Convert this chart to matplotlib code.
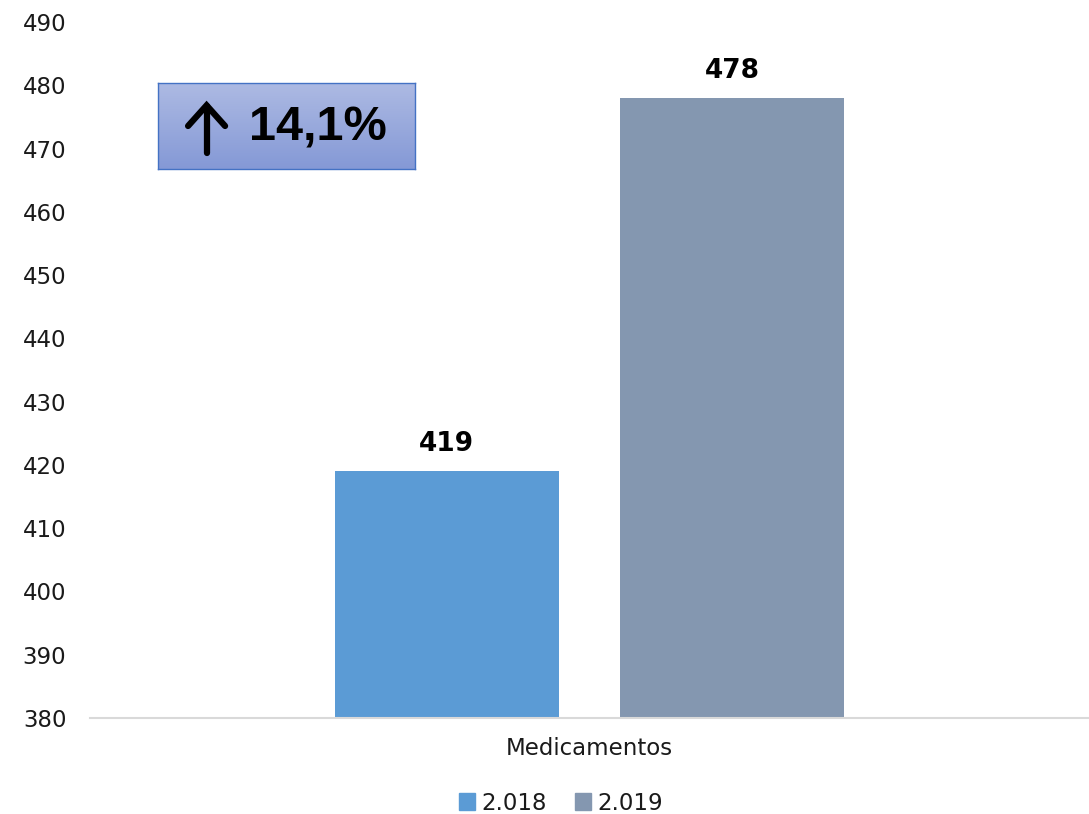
import numpy as np
import matplotlib.pyplot as plt
from matplotlib.patches import Patch

# data
categoria = ["Medicamentos"]
anos = ["2.018", "2.019"]
valores = [419, 478]
cores = ["#5B9BD5", "#8497B0"]
variacao = "14,1%"

plt.rcParams['font.family'] = ['DejaVu Sans']

fig = plt.figure(figsize=(10.89, 8.14), dpi=100)
ax = fig.add_axes([90/1089, 96/814, 999/1089, 696/814])

offsets = [-0.143, 0.143]
for i in range(len(anos)):
    ax.bar(offsets[i], valores[i] - 380, bottom=380, width=0.224,
           color=cores[i], label=anos[i])
    ax.text(offsets[i], valores[i] + 2.2, str(valores[i]), ha='center', va='bottom',
            fontsize=19, fontweight='bold', color='black')

ax.set_xlim(-0.5, 0.5)
ax.set_ylim(380, 490)
ax.set_yticks(np.arange(380, 491, 10))
ax.set_xticks([0])
ax.set_xticklabels(categoria)
ax.tick_params(axis='y', length=0, labelsize=16.5, pad=17, labelcolor='#1a1a1a')
ax.tick_params(axis='x', length=0, labelsize=16.5, pad=14, labelcolor='#1a1a1a')
for s in ['top', 'right', 'left']:
    ax.spines[s].set_visible(False)
ax.spines['bottom'].set_color('#D9D9D9')
ax.spines['bottom'].set_linewidth(1.5)

# legend
handles = [Patch(color=c) for c in cores]
fig.legend(handles, anos, loc='center', bbox_to_anchor=(561/1089, 1 - 803/814),
           ncol=2, frameon=False, fontsize=16.5, handlelength=0.7, handleheight=0.7,
           handletextpad=0.3, columnspacing=1.2, labelcolor='#1a1a1a')

# caixa com variação
bx = fig.add_axes([158/1089, 1 - 169/814, 257/1089, 86/814])
grad = np.linspace(0, 1, 100).reshape(-1, 1)
top = np.array([0.68, 0.73, 0.89])
bot = np.array([0.52, 0.60, 0.84])
img = top + (bot - top) * grad[:, :, None]
bx.imshow(img, aspect='auto', extent=[0, 1, 0, 1], origin='upper')
bx.set_xlim(0, 1)
bx.set_ylim(0, 1)
bx.set_xticks([])
bx.set_yticks([])
for s in bx.spines.values():
    s.set_color('#4472C4')
    s.set_linewidth(1)
bx.annotate('', xy=(0.189, 0.76), xytext=(0.189, 0.19),
            arrowprops=dict(arrowstyle='-|>,head_length=0.0,head_width=0.0', lw=0))
bx.plot([0.189, 0.189], [0.19, 0.73], color='black', lw=4.5, solid_capstyle='round')
bx.plot([0.189 - 0.072, 0.189, 0.189 + 0.072], [0.5, 0.74, 0.5], color='black', lw=4.5,
        solid_capstyle='round', solid_joinstyle='miter')
bx.text(0.355, 0.48, variacao, ha='left', va='center', fontsize=35,
        fontweight='bold', family=['Liberation Sans', 'DejaVu Sans'], color='black')

fig.savefig('out.png', dpi=100)
